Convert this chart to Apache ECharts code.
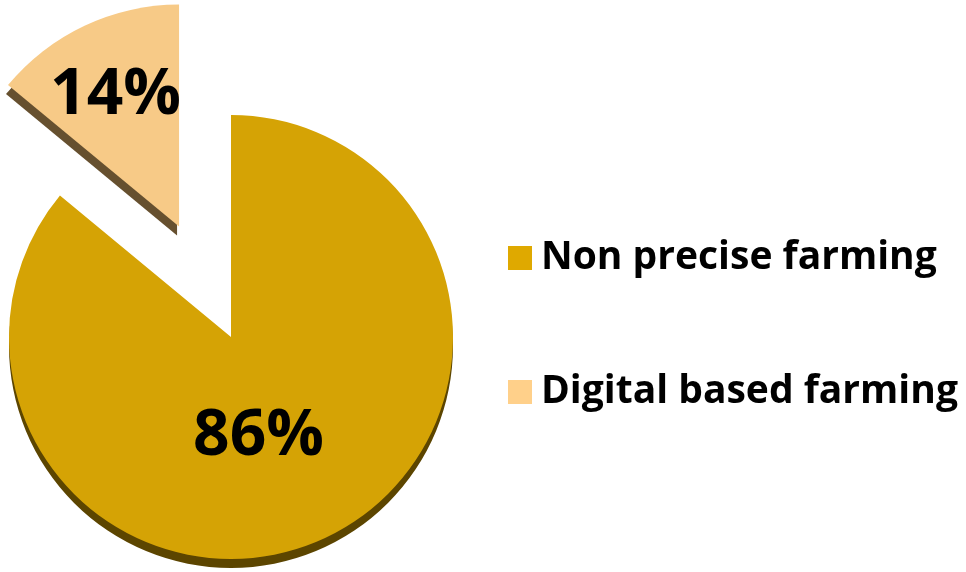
<!DOCTYPE html>
<html>
<head>
<meta charset="utf-8">
<script src="https://cdn.jsdelivr.net/npm/echarts@6/dist/echarts.min.js"></script>
<style>
html,body{margin:0;padding:0;background:#fff;}
#chart{width:966px;height:572px;}
</style>
</head>
<body>
<div id="chart"></div>
<script>
var categories = ['Non precise farming', 'Digital based farming'];
var values = [86, 14];
var sliceColors = ['#D5A305', '#F7CA87'];
var edgeColors = ['#5C4500', '#66502F'];
var edgeShiftX = [0, -2];
var legendColors = ['#DFA900', '#FFD08A'];
var labelShift = [[-21, -3], [-15, -28]];

var chart = echarts.init(document.getElementById('chart'));
var data = categories.map(function (name, i) {
  return {
    name: name,
    value: values[i],
    selected: i === 1,
    itemStyle: {
      color: sliceColors[i],
      shadowColor: edgeColors[i],
      shadowBlur: 0,
      shadowOffsetX: edgeShiftX[i],
      shadowOffsetY: 9
    }
  };
});

chart.setOption({
  animation: false,
  legend: {
    orient: 'vertical',
    left: 503,
    top: 233,
    itemWidth: 24,
    itemHeight: 24,
    itemGap: 94,
    icon: 'rect',
    selectedMode: false,
    data: categories.map(function (name, i) {
      return { name: name, itemStyle: { color: legendColors[i] } };
    }),
    textStyle: {
      fontFamily: 'Open Sans',
      fontWeight: 'bold',
      fontSize: 39,
      lineHeight: 40,
      color: '#000',
      padding: [0, 0, 0, 4]
    }
  },
  series: [{
    type: 'pie',
    center: [231, 337],
    radius: 222,
    startAngle: 90,
    clockwise: true,
    selectedMode: 'single',
    selectedOffset: 122,
    avoidLabelOverlap: false,
    label: {
      show: true,
      position: 'inside',
      formatter: '{c}%',
      fontFamily: 'Open Sans',
      fontWeight: 'bold',
      fontSize: 64,
      color: '#000'
    },
    labelLine: { show: false },
    labelLayout: function (params) {
      var s = labelShift[params.dataIndex];
      return { dx: s[0], dy: s[1] };
    },
    emphasis: { disabled: true },
    data: data
  }]
});
</script>
</body>
</html>
